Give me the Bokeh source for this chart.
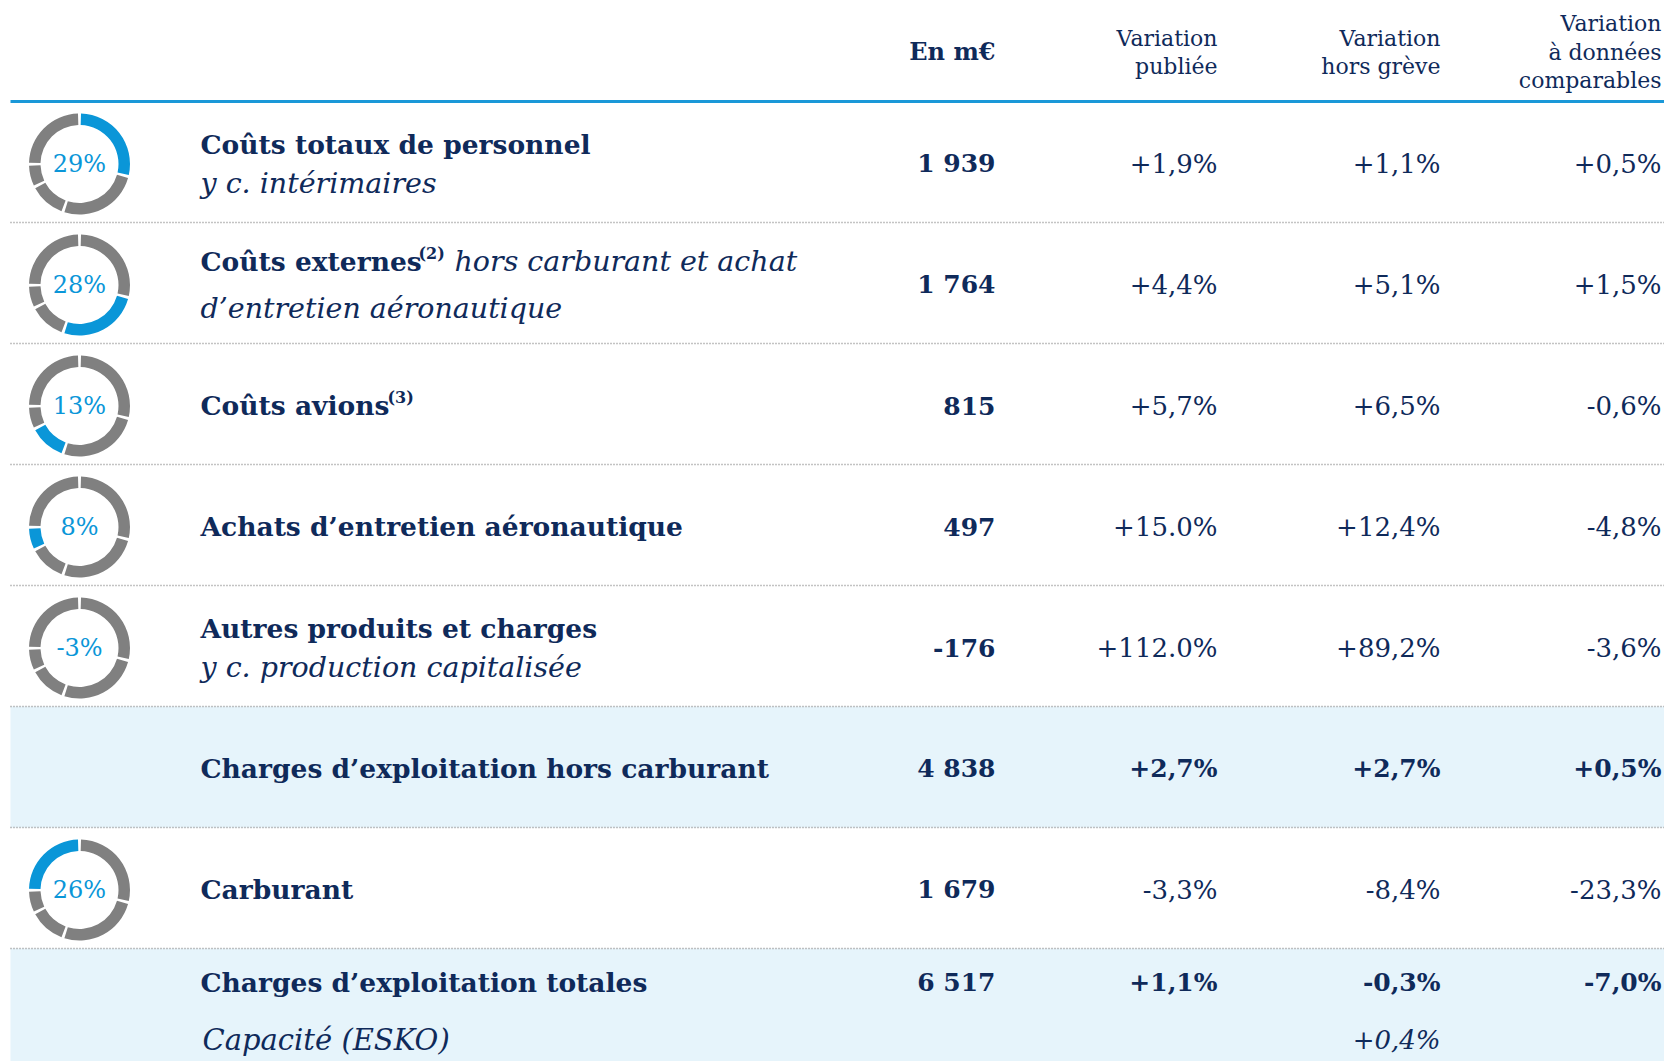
import math
from bokeh.plotting import figure
from bokeh.models import Range1d
from bokeh.embed import file_html
from bokeh.resources import INLINE
from bokeh.core.properties import value

# ---------------- data ----------------
row_labels = [
    "Coûts totaux de personnel",
    "Coûts externes",
    "Coûts avions",
    "Achats d’entretien aéronautique",
    "Autres produits et charges",
    "Charges d’exploitation hors carburant",
    "Carburant",
    "Charges d’exploitation totales",
]
label_notes = ["", "(2)", "(3)", "", "", "", "", ""]
inline_italic = ["", "hors carburant et achat", "", "", "", "", "", ""]
row_subtitles = ["y c. intérimaires", "d’entretien aéronautique", "", "",
                 "y c. production capitalisée", "", "", ""]
values_meur = [1939, 1764, 815, 497, -176, 4838, 1679, 6517]
var_publiee = ["+1,9%", "+4,4%", "+5,7%", "+15.0%", "+112.0%", "+2,7%", "-3,3%", "+1,1%"]
var_hors_greve = ["+1,1%", "+5,1%", "+6,5%", "+12,4%", "+89,2%", "+2,7%", "-8,4%", "-0,3%"]
var_comparables = ["+0,5%", "+1,5%", "-0,6%", "-4,8%", "-3,6%", "+0,5%", "-23,3%", "-7,0%"]
share_labels = ["29%", "28%", "13%", "8%", "-3%", "", "26%", ""]
total_rows = [5, 7]            # highlighted (subtotal / total) rows
donut_members = [0, 1, 2, 3, 6]  # cost items composing the donut
header_cols = [["En m€"], ["Variation", "publiée"], ["Variation", "hors grève"],
               ["Variation", "à données", "comparables"]]
capacity_label = "Capacité (ESKO)"
capacity_value = "+0,4%"

# ---------------- style ----------------
NAVY = "#0F2A5A"
BLUE = "#0A96D8"
GRAY = "#808080"
BG = "#E6F4FB"
DOT = "#888888"
FONT = value("DejaVu Serif")

W, H = 1664, 1061
p = figure(width=W, height=H, x_range=Range1d(0, W), y_range=Range1d(0, H),
           output_backend="svg", toolbar_location=None, min_border=0,
           x_axis_location=None, y_axis_location=None)
p.grid.visible = False
p.outline_line_color = None
p.background_fill_color = "white"
p.border_fill_color = "white"


def Y(y):
    return H - y


X_LEFT = 10
X_RIGHT = 1700
ROW_TOP0 = 101
ROW_H = 121
COL_RIGHT = [995, 1217, 1440, 1661]
LABEL_X = 200
DONUT_X = 79

n = len(row_labels)
tops = [ROW_TOP0 + i * ROW_H for i in range(n)]
centers = [t + ROW_H / 2 for t in tops]

# background for highlighted rows
for i in total_rows:
    p.quad(left=X_LEFT, right=X_RIGHT, top=Y(tops[i]), bottom=Y(tops[i] + ROW_H),
           fill_color=BG, line_color=None)

# header line
p.line([X_LEFT, X_RIGHT], [Y(ROW_TOP0), Y(ROW_TOP0)], line_color="#1A98D8", line_width=3)

# dotted separators
for i in range(1, n):
    p.line([X_LEFT, X_RIGHT], [Y(tops[i]), Y(tops[i])], line_color=DOT,
           line_width=1.4, line_dash="1 2")

# headers
head_y = {1: [51], 2: [38, 66], 3: [23, 52, 80]}
for ci, lines in enumerate(header_cols):
    ys = head_y[len(lines)]
    for k, t in enumerate(lines):
        bold = ci == 0
        p.text(x=[COL_RIGHT[ci]], y=[Y(ys[k])], text=[t], text_font=FONT,
               text_font_size="24px" if bold else "22px",
               text_font_style="bold" if bold else "normal",
               text_color=NAVY, text_align="right", text_baseline="middle")

# donuts
member_vals = [values_meur[m] for m in donut_members]
tot = sum(member_vals)
cum = [0.0]
for v in member_vals:
    cum.append(cum[-1] + v / tot)
gap = 0.03
for i in range(n):
    if not share_labels[i]:
        continue
    cy = Y(centers[i] + 2)
    for k, m in enumerate(donut_members):
        a0 = math.pi / 2 - cum[k] * 2 * math.pi - gap
        a1 = math.pi / 2 - cum[k + 1] * 2 * math.pi + gap
        p.annular_wedge(x=[DONUT_X], y=[cy], inner_radius=39, outer_radius=50.5,
                        start_angle=a0, end_angle=a1, direction="clock",
                        fill_color=BLUE if m == i else GRAY, line_color=None)
    p.text(x=[DONUT_X], y=[cy], text=[share_labels[i]], text_font=FONT,
           text_font_size="24px", text_color=BLUE, text_align="center",
           text_baseline="middle")

# row labels
note_x = {1: 418, 2: 387}
italic_x = {1: 454}
for i in range(n):
    c = centers[i]
    if i == 7:
        y1 = tops[i] + 34
    elif row_subtitles[i]:
        y1 = c - (21.5 if i == 1 else 17.5)
    else:
        y1 = c + 1
    p.text(x=[LABEL_X], y=[Y(y1)], text=[row_labels[i]], text_font=FONT,
           text_font_size="26.5px", text_font_style="bold", text_color=NAVY,
           text_align="left", text_baseline="middle")
    if label_notes[i]:
        p.text(x=[note_x[i]], y=[Y(y1 - 8)], text=[label_notes[i]], text_font=FONT,
               text_font_size="16px", text_font_style="bold", text_color=NAVY,
               text_align="left", text_baseline="middle")
    if inline_italic[i]:
        p.text(x=[italic_x[i]], y=[Y(y1)], text=[inline_italic[i]], text_font=FONT,
               text_font_size="28.5px", text_font_style="italic", text_color=NAVY,
               text_align="left", text_baseline="middle")
    if row_subtitles[i]:
        y2 = c + (25.5 if i == 1 else 21)
        p.text(x=[LABEL_X], y=[Y(y2)], text=[row_subtitles[i]], text_font=FONT,
               text_font_size="28.5px", text_font_style="italic", text_color=NAVY,
               text_align="left", text_baseline="middle")

# values
for i in range(n):
    yv = tops[i] + 34 if i == 7 else centers[i] + 1.5
    bold_row = i in total_rows
    p.text(x=[COL_RIGHT[0]], y=[Y(yv)], text=[f"{values_meur[i]:,}".replace(",", " ")],
           text_font=FONT, text_font_size="25px", text_font_style="bold",
           text_color=NAVY, text_align="right", text_baseline="middle")
    for ci, col in enumerate([var_publiee, var_hors_greve, var_comparables]):
        p.text(x=[COL_RIGHT[ci + 1]], y=[Y(yv)], text=[col[i]], text_font=FONT,
               text_font_size="25px" if bold_row else "26px",
               text_font_style="bold" if bold_row else "normal",
               text_color=NAVY, text_align="right", text_baseline="middle")

# capacity line
p.text(x=[LABEL_X + 2], y=[Y(tops[7] + 91)], text=[capacity_label], text_font=FONT,
       text_font_size="29px", text_font_style="italic", text_color=NAVY,
       text_align="left", text_baseline="middle")
p.text(x=[COL_RIGHT[2]], y=[Y(tops[7] + 91)], text=[capacity_value], text_font=FONT,
       text_font_size="26px", text_font_style="italic", text_color=NAVY,
       text_align="right", text_baseline="middle")

open("out.html", "w").write(file_html(p, INLINE))
